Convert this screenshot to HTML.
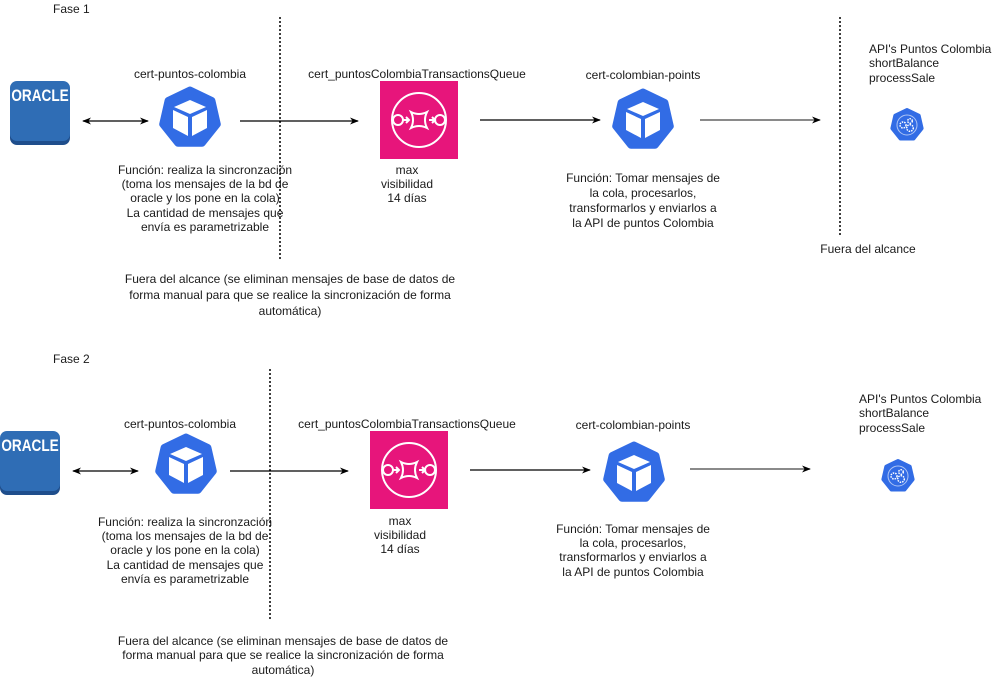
<!DOCTYPE html>
<html><head><meta charset="utf-8"><style>
html,body{margin:0;padding:0;background:#fff;}
svg text{font-family:"Liberation Sans",Arial,sans-serif;font-size:12px;fill:#1a1a1a;}
</style></head><body>
<svg width="998" height="680" viewBox="0 0 998 680" xmlns="http://www.w3.org/2000/svg">
<defs>
<marker id="ah" viewBox="0 0 10 10" refX="9" refY="5" markerWidth="9" markerHeight="9" orient="auto-start-reverse" markerUnits="userSpaceOnUse"><path d="M0,1 L10,5 L0,9 L3,5 z" fill="#000"/></marker>
<marker id="ahg" viewBox="0 0 10 10" refX="9" refY="5" markerWidth="9" markerHeight="9" orient="auto" markerUnits="userSpaceOnUse"><path d="M0,1 L10,5 L0,9 L3,5 z" fill="#000"/></marker>
<g id="oracle">
<rect x="0" y="2" width="60" height="62" rx="7" fill="#1f4e8c"/>
<rect x="0" y="0" width="60" height="60" rx="7" fill="#2f6db5"/>
<text x="0" y="0" transform="translate(30,20) scale(0.8,1)" text-anchor="middle" style="font-weight:bold;font-size:17px;fill:#fff;">ORACLE</text>
</g>
<g id="k8s">
<polygon points="0,-28 21.89,-17.46 27.3,6.23 12.15,25.23 -12.15,25.23 -27.3,6.23 -21.89,-17.46" fill="#326ce5" stroke="#326ce5" stroke-width="7" stroke-linejoin="round"/>
<polygon points="0,-18 16,-11 0,-4 -16,-11" fill="#fff"/>
<polygon points="-17,-8 -2,-1 -2,18 -17,10" fill="#fff"/>
<polygon points="17,-8 2,-1 2,18 17,10" fill="#fff"/>
</g>
<g id="api">
<polygon points="0,-15 11.7,-9.35 14.6,3.34 6.5,13.5 -6.5,13.5 -14.6,3.34 -11.7,-9.35" fill="#326ce5" stroke="#326ce5" stroke-width="4" stroke-linejoin="round"/>
<circle cx="0" cy="0" r="10" fill="none" stroke="#fff" stroke-width="1" opacity="0.6"/>
<circle cx="-4" cy="0" r="3" fill="none" stroke="#fff" stroke-width="1.5" stroke-dasharray="1.5 1"/>
<circle cx="3" cy="-4" r="2.3" fill="none" stroke="#fff" stroke-width="1.5" stroke-dasharray="1.5 1"/>
<circle cx="3" cy="3" r="3.3" fill="none" stroke="#fff" stroke-width="1.5" stroke-dasharray="1.5 1"/>
</g>
<g id="sqs">
<rect x="0" y="0" width="78" height="78" fill="#e7157b"/>
<circle cx="39" cy="39" r="27" fill="none" stroke="#fff" stroke-width="2"/>
<circle cx="18" cy="39" r="5" fill="#e7157b" stroke="#fff" stroke-width="2"/>
<circle cx="60" cy="39" r="5" fill="#e7157b" stroke="#fff" stroke-width="2"/>
<path d="M31,31 Q39,35 47,31 Q43,39 47,47 Q39,43 31,47 Q35,39 31,31 z" fill="none" stroke="#fff" stroke-width="2"/>
<path d="M23,39 H29 M26,36 L29,39 L26,42 M49,39 H55 M52,36 L55,39 L52,42" fill="none" stroke="#fff" stroke-width="2"/>
</g>
</defs>

<!-- Phase 1 -->
<text x="53" y="13">Fase 1</text>
<line x1="280" y1="18" x2="280" y2="262" stroke="#000" stroke-width="2" stroke-dasharray="0 4" stroke-linecap="round"/>
<line x1="840" y1="18" x2="840" y2="236" stroke="#000" stroke-width="2" stroke-dasharray="0 4" stroke-linecap="round"/>
<use href="#oracle" x="10" y="81"/>
<line x1="83" y1="121" x2="148" y2="121" stroke="#000" stroke-width="1.3" marker-start="url(#ah)" marker-end="url(#ah)"/>
<text x="190" y="78" text-anchor="middle">cert-puntos-colombia</text>
<use href="#k8s" x="190" y="118"/>
<line x1="240" y1="121" x2="358" y2="121" stroke="#000" stroke-width="1.3" marker-end="url(#ah)"/>
<text x="417" y="78" text-anchor="middle">cert_puntosColombiaTransactionsQueue</text>
<use href="#sqs" x="380" y="81"/>
<line x1="480" y1="120" x2="600" y2="120" stroke="#000" stroke-width="1.3" marker-end="url(#ah)"/>
<text x="643" y="79" text-anchor="middle">cert-colombian-points</text>
<use href="#k8s" x="643" y="120"/>
<line x1="700" y1="120" x2="820" y2="120" stroke="#444" stroke-width="1.3" marker-end="url(#ahg)"/>
<use href="#api" x="907" y="125"/>
<text x="869" y="53">API's Puntos Colombia</text>
<text x="869" y="67">shortBalance</text>
<text x="869" y="82">processSale</text>
<g text-anchor="middle">
<text x="205" y="174">Función: realiza la sincronzación</text>
<text x="205" y="188">(toma los mensajes de la bd de</text>
<text x="205" y="202">oracle y los pone en la cola)</text>
<text x="205" y="217">La cantidad de mensajes que</text>
<text x="205" y="231">envía es parametrizable</text>
<text x="407" y="174">max</text>
<text x="407" y="188">visibilidad</text>
<text x="407" y="202">14 días</text>
<text x="643" y="182">Función: Tomar mensajes de</text>
<text x="643" y="197">la cola, procesarlos,</text>
<text x="643" y="212">transformarlos y enviarlos a</text>
<text x="643" y="227">la API de puntos Colombia</text>
<text x="868" y="253">Fuera del alcance</text>
<text x="290" y="283">Fuera del alcance (se eliminan mensajes de base de datos de</text>
<text x="290" y="299">forma manual para que se realice la sincronización de forma</text>
<text x="290" y="315">automática)</text>
</g>

<!-- Phase 2 -->
<g transform="translate(-10,350)">
<text x="63" y="13">Fase 2</text>
<line x1="280" y1="20" x2="280" y2="272" stroke="#000" stroke-width="2" stroke-dasharray="0 4" stroke-linecap="round"/>
<use href="#oracle" x="10" y="81"/>
<line x1="83" y1="121" x2="148" y2="121" stroke="#000" stroke-width="1.3" marker-start="url(#ah)" marker-end="url(#ah)"/>
<text x="190" y="78" text-anchor="middle">cert-puntos-colombia</text>
<use href="#k8s" x="196" y="115"/>
<line x1="240" y1="121" x2="358" y2="121" stroke="#000" stroke-width="1.3" marker-end="url(#ah)"/>
<text x="417" y="78" text-anchor="middle">cert_puntosColombiaTransactionsQueue</text>
<use href="#sqs" x="380" y="81"/>
<line x1="480" y1="120" x2="600" y2="120" stroke="#000" stroke-width="1.3" marker-end="url(#ah)"/>
<text x="643" y="79" text-anchor="middle">cert-colombian-points</text>
<use href="#k8s" x="644" y="123"/>
<line x1="700" y1="119" x2="820" y2="119" stroke="#444" stroke-width="1.3" marker-end="url(#ahg)"/>
<use href="#api" x="908" y="126"/>
<text x="869" y="53">API's Puntos Colombia</text>
<text x="869" y="67">shortBalance</text>
<text x="869" y="82">processSale</text>
<g text-anchor="middle">
<text x="195" y="176">Función: realiza la sincronzación</text>
<text x="195" y="190">(toma los mensajes de la bd de</text>
<text x="195" y="204">oracle y los pone en la cola)</text>
<text x="195" y="219">La cantidad de mensajes que</text>
<text x="195" y="233">envía es parametrizable</text>
<text x="410" y="175">max</text>
<text x="410" y="189">visibilidad</text>
<text x="410" y="203">14 días</text>
<text x="643" y="183">Función: Tomar mensajes de</text>
<text x="643" y="197">la cola, procesarlos,</text>
<text x="643" y="211">transformarlos y enviarlos a</text>
<text x="643" y="226">la API de puntos Colombia</text>
<text x="293" y="295">Fuera del alcance (se eliminan mensajes de base de datos de</text>
<text x="293" y="309">forma manual para que se realice la sincronización de forma</text>
<text x="293" y="324">automática)</text>
</g>
</g>
</svg>
</body></html>
